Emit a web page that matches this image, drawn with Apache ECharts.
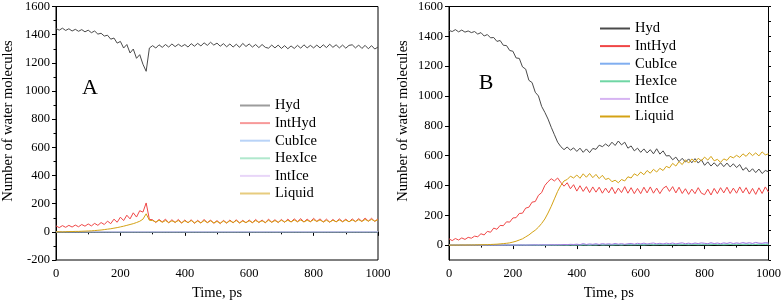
<!DOCTYPE html>
<html>
<head>
    <meta charset="utf-8">
    <title>water molecules</title>
    <script src="https://cdn.jsdelivr.net/npm/echarts@6/dist/echarts.min.js"></script>
    <style>
        html, body { margin: 0; padding: 0; background: #fff; }
    </style>
</head>
<body>
<div id="mychat" style="width: 784px;height:306px;"></div>
<script>
    // time axis, ps
    var time = [0,10,20,30,40,50,60,70,80,90,
        100,110,120,130,140,150,160,170,180,190,
        200,210,220,230,240,250,260,270,280,290,
        300,310,320,330,340,350,360,370,380,390,
        400,410,420,430,440,450,460,470,480,490,
        500,510,520,530,540,550,560,570,580,590,
        600,610,620,630,640,650,660,670,680,690,
        700,710,720,730,740,750,760,770,780,790,
        800,810,820,830,840,850,860,870,880,890,
        900,910,920,930,940,950,960,970,980,990,
        1000];

    var names = ['Hyd', 'IntHyd', 'CubIce', 'HexIce', 'IntIce', 'Liquid'];
    var colors = ['#4a4a4a', '#f04646', '#80aef0', '#6fd6a4', '#d6b4f2', '#d4a214'];

    // panel A
    var hydA = [1444,1432,1446,1430,1442,1426,1438,1424,1436,1420,
        1432,1414,1426,1404,1410,1390,1396,1368,1376,1340,
        1352,1305,1330,1270,1298,1232,1258,1190,1140,1305,
        1322,1305,1328,1310,1330,1312,1334,1315,1332,1316,
        1330,1312,1336,1318,1338,1320,1342,1324,1346,1326,
        1340,1318,1336,1314,1334,1312,1332,1310,1338,1316,
        1334,1312,1330,1308,1330,1310,1304,1326,1306,1326,
        1302,1322,1300,1320,1302,1324,1304,1328,1306,1324,
        1306,1326,1306,1328,1308,1332,1310,1328,1306,1326,
        1304,1324,1328,1306,1326,1302,1324,1300,1322,1298,
        1312];
    var intHydA = [42,30,44,32,46,34,48,36,52,40,
        56,42,60,46,66,52,76,58,90,68,
        104,80,118,92,135,105,150,140,205,88,
        86,66,88,70,90,64,86,66,88,62,
        84,64,86,60,82,62,88,64,84,60,
        80,58,82,62,84,64,86,62,82,64,
        84,64,88,66,84,64,90,68,86,66,
        88,68,90,70,92,72,94,70,90,72,
        96,74,92,70,90,68,88,70,92,72,
        90,70,92,72,94,74,98,76,96,74,
        92];
    var liquidA = [0,1,0,1,2,2,3,3,4,5,
        6,7,9,11,13,16,19,22,26,30,
        35,40,46,52,58,66,75,90,128,82,
        80,70,82,68,80,66,78,68,80,64,
        78,66,80,64,76,64,80,66,78,64,
        74,62,76,64,78,66,80,64,76,66,
        78,66,80,68,78,66,82,68,80,68,
        82,70,82,70,84,72,84,70,82,72,
        86,74,84,70,82,70,82,72,84,72,
        84,72,84,74,86,74,88,76,88,76,
        86];
    var noIceA = [0,0,0,0,0,0,0,0,0,0,
        0,0,0,0,0,0,0,0,0,0,
        0,0,0,0,0,0,0,0,0,0,
        0,0,0,0,0,0,0,0,0,0,
        0,0,0,0,0,0,0,0,0,0,
        0,0,0,0,0,0,0,0,0,0,
        0,0,0,0,0,0,0,0,0,0,
        0,0,0,0,0,0,0,0,0,0,
        0,0,0,0,0,0,0,0,0,0,
        0,0,0,0,0,0,0,0,0,0,
        0];

    // panel B
    var hydB = [1440,1432,1445,1430,1442,1428,1436,1425,1432,1415,
        1425,1402,1412,1390,1392,1366,1372,1340,1338,1305,
        1300,1255,1252,1195,1180,1105,1090,1025,1000,930,
        890,845,790,740,690,660,640,658,636,652,
        628,650,622,645,620,648,642,670,660,678,
        662,690,668,698,672,690,650,665,632,650,
        622,645,618,640,612,646,610,632,598,600,
        572,590,560,582,556,578,552,580,550,572,
        535,558,530,552,528,552,526,550,524,545,
        520,540,502,520,490,512,486,510,480,500,
        492];
    var intHydB = [42,30,44,34,48,38,52,46,60,56,
        76,68,92,86,114,106,132,130,156,154,
        182,184,212,214,248,254,288,292,334,352,
        400,425,445,430,450,420,395,418,378,405,
        362,398,360,392,352,390,355,388,348,382,
        350,388,345,382,352,392,348,385,345,380,
        345,388,350,390,348,382,345,380,395,360,
        392,350,388,346,378,340,375,345,385,348,
        338,375,336,380,345,385,350,388,346,382,
        348,390,350,385,342,380,340,384,346,390,
        355];
    var cubIceB = [0,0,0,0,0,0,0,0,0,0,
        0,0,0,0,0,0,0,0,0,0,
        0,0,0,0,0,0,1,0,0,1,
        0,1,1,0,1,2,1,1,2,1,
        2,1,3,2,1,3,2,4,2,3,
        3,2,4,3,2,4,3,5,3,4,
        4,3,5,4,3,5,4,6,4,5,
        5,4,6,5,4,6,5,7,5,6,
        6,5,7,5,6,4,6,7,5,6,
        7,5,6,8,6,7,5,7,6,8,
        7];
    var hexIceB = [0,0,0,0,0,0,0,0,0,0,
        0,0,0,0,0,0,0,0,0,0,
        0,0,0,0,0,0,0,0,0,0,
        0,0,0,1,0,0,1,0,1,0,
        1,0,1,1,0,1,1,2,1,1,
        2,1,1,2,1,2,2,1,2,2,
        2,1,2,3,2,2,3,2,2,3,
        2,3,2,3,3,2,3,3,2,3,
        3,2,3,4,3,3,2,3,4,3,
        3,4,3,3,4,3,4,3,4,4,
        3];
    var intIceB = [0,0,0,0,0,0,0,0,0,0,
        0,0,0,0,0,0,0,0,1,0,
        1,0,1,1,0,1,1,2,1,2,
        2,1,3,2,3,2,4,3,5,4,
        6,3,10,4,8,5,9,4,10,6,
        9,5,11,6,10,5,9,11,6,12,
        8,13,7,11,14,8,12,7,13,9,
        14,8,12,15,9,13,8,14,10,15,
        12,9,16,10,14,9,15,11,17,10,
        15,11,17,12,16,11,18,13,12,17,
        14];
    var liquidB = [0,0,0,0,1,0,1,1,1,2,
        2,3,3,4,5,6,8,10,12,15,
        20,26,34,42,55,68,85,100,120,145,
        175,215,260,310,360,400,430,440,462,450,
        470,448,478,455,480,452,474,446,468,440,
        448,425,435,418,440,430,458,450,478,465,
        490,472,500,482,508,490,515,500,528,518,
        548,530,560,540,572,550,578,556,582,565,
        590,570,595,565,575,555,578,568,595,585,
        602,588,612,595,620,600,618,598,625,605,
        612];

    var yTicksB = [0,200,400,600,800,1000,1200,1400,1600];

    var serif = '"Liberation Serif", "Times New Roman", serif';

    function pairs(arr) {
        return time.map(function (t, i) { return [t, arr[i]]; });
    }

    function plain(v) {
        return String(v);
    }

    function makeSeries(list, gi) {
        var out = [];
        for (var i = 0; i < list.length; i++) {
            out.push({
                name: names[i],
                type: 'line',
                xAxisIndex: gi,
                yAxisIndex: gi,
                data: pairs(list[i]),
                showSymbol: false,
                symbol: 'none',
                lineStyle: {width: 1, color: colors[i]},
                itemStyle: {color: colors[i]},
                z: 2 + i
            });
        }
        return out;
    }

    function xAx(gi) {
        return {
            type: 'value', gridIndex: gi, min: 0, max: 1000, interval: 200,
            name: 'Time, ps', nameLocation: 'middle', nameGap: 26,
            nameTextStyle: {fontFamily: serif, fontSize: 14.5, color: '#000'},
            axisLine: {lineStyle: {color: '#000', width: 1}},
            axisTick: {length: 4, lineStyle: {color: '#000'}},
            minorTick: {show: true, splitNumber: 2, length: 2.5, lineStyle: {color: '#000'}},
            axisLabel: {fontFamily: serif, fontSize: 12.5, color: '#000', margin: 7, formatter: plain},
            splitLine: {show: false}
        };
    }

    var seriesA = makeSeries([hydA, intHydA, noIceA, noIceA, noIceA, liquidA], 0);
    var seriesB = makeSeries([hydB, intHydB, cubIceB, hexIceB, intIceB, liquidB], 1);
    // purple noise of IntIce in panel B is a bit darker
    seriesB[4].lineStyle.color = '#a47ae0';

    var legendBase = {
        data: names,
        orient: 'vertical',
        icon: 'rect',
        itemWidth: 30,
        itemHeight: 2,
        itemGap: 2.6,
        selectedMode: false,
        textStyle: {fontFamily: serif, fontSize: 14.5, color: '#000', lineHeight: 14}
    };

    var myChart = echarts.init(document.getElementById('mychat'));
    var option = {
        animation: false,
        backgroundColor: '#fff',
        grid: [
            {left: 56, right: 406, top: 5, bottom: 42, show: true, borderColor: '#000', borderWidth: 1},
            {left: 449, right: 11, top: 5, bottom: 42, show: true, borderColor: '#000', borderWidth: 1}
        ],
        legend: [
            echarts.util.merge({left: 235, top: 93, itemStyle: {opacity: 0.55}}, legendBase, true),
            echarts.util.merge({left: 595, top: 16}, legendBase, true)
        ],
        xAxis: [xAx(0), xAx(1)],
        yAxis: [
            {
                type: 'value', gridIndex: 0, min: -200, max: 1600, interval: 200,
                axisLine: {show: true, lineStyle: {color: '#000', width: 1}},
                axisTick: {show: true, length: 4, lineStyle: {color: '#000'}},
                minorTick: {show: true, splitNumber: 2, length: 2.5, lineStyle: {color: '#000'}},
                axisLabel: {fontFamily: serif, fontSize: 12.5, color: '#000', margin: 6, formatter: plain},
                splitLine: {show: false}
            },
            {
                type: 'value', gridIndex: 1, min: -100, max: 1600, interval: 100,
                axisLine: {show: true, lineStyle: {color: '#000', width: 1}},
                axisTick: {show: true, length: 4, customValues: yTicksB, lineStyle: {color: '#000'}},
                axisLabel: {fontFamily: serif, fontSize: 12.5, color: '#000', margin: 6,
                    customValues: yTicksB, formatter: plain},
                splitLine: {show: false}
            },
            {
                // minor ticks every 100 for panel B
                type: 'value', gridIndex: 1, min: -100, max: 1600, interval: 100,
                axisLine: {show: false},
                axisTick: {show: true, length: 2.5, lineStyle: {color: '#000'}},
                axisLabel: {show: false},
                splitLine: {show: false}
            }
        ],
        graphic: [
            {type: 'text', x: 8, y: 121, rotation: Math.PI / 2,
                style: {text: 'Number of water molecules', fontFamily: serif, fontSize: 14.5, fill: '#000',
                    align: 'center', verticalAlign: 'middle'}},
            {type: 'text', x: 403, y: 121, rotation: Math.PI / 2,
                style: {text: 'Number of water molecules', fontFamily: serif, fontSize: 14.5, fill: '#000',
                    align: 'center', verticalAlign: 'middle'}},
            {type: 'text', x: 90, y: 88,
                style: {text: 'A', fontFamily: serif, fontSize: 22, fill: '#000', align: 'center', verticalAlign: 'middle'}},
            {type: 'text', x: 486, y: 83,
                style: {text: 'B', fontFamily: serif, fontSize: 22, fill: '#000', align: 'center', verticalAlign: 'middle'}}
        ],
        series: seriesA.concat(seriesB)
    };
    myChart.setOption(option);
</script>
</body>
</html>
